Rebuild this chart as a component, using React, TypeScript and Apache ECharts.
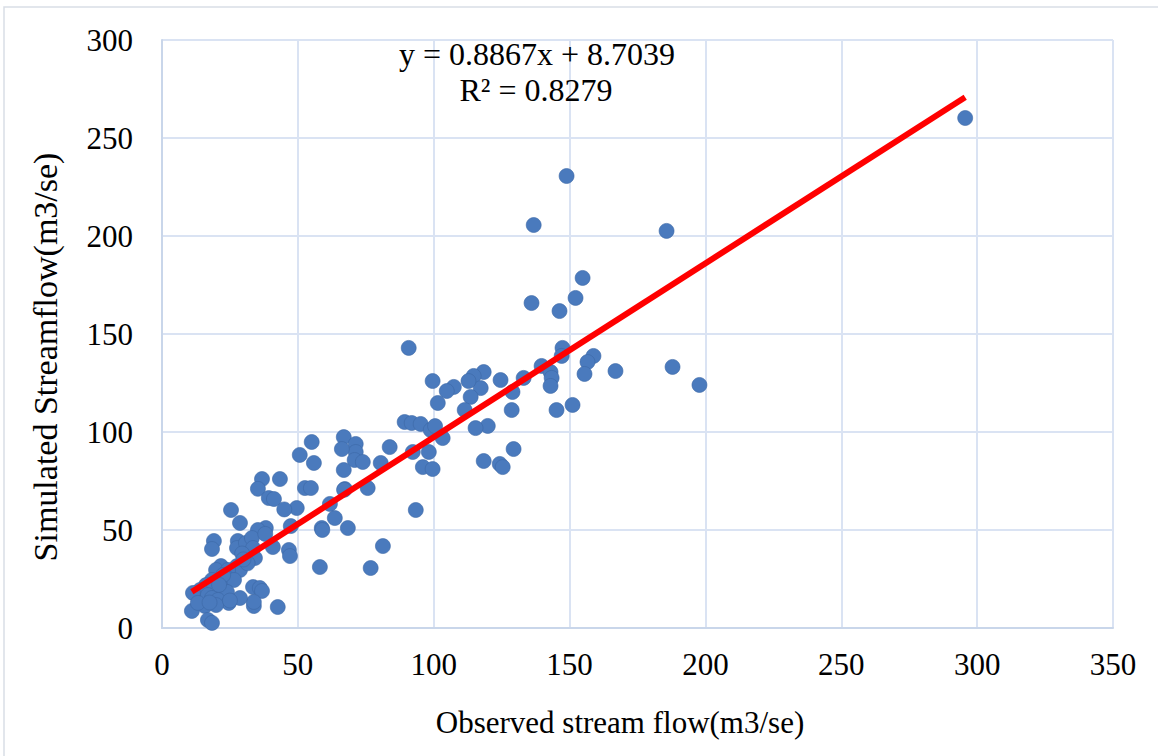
import React, { useEffect, useRef } from "react";
import * as echarts from "echarts";

const observed: number[] = [
  295.6, 148.9, 136.8, 185.7, 154.8, 152.2, 136.0, 146.3, 90.8, 147.4,
  158.8, 147.1, 139.7, 156.6, 155.5, 166.9, 187.9, 197.8, 143.0, 143.4,
  143.0, 118.4, 114.7, 124.6, 133.1, 99.6, 107.4, 104.8, 117.3, 129.0,
  113.6, 101.5, 151.1, 145.2, 111.4, 128.7, 89.3, 91.9, 95.2, 98.9,
  119.9, 115.4, 103.3, 83.8, 92.3, 98.2, 129.4, 118.4, 124.3, 125.4,
  96.0, 99.6, 80.5, 93.4, 81.3, 76.8, 66.9, 71.3, 71.3, 66.2,
  70.9, 73.9, 66.9, 55.1, 50.7, 55.9, 52.6, 54.8, 49.6, 61.8,
  67.3, 75.7, 63.6, 58.8, 68.4, 58.1, 43.4, 36.8, 35.3, 39.3,
  41.2, 47.4, 38.2, 35.3, 25.4, 28.7, 40.8, 46.7, 47.1, 42.6,
  33.5, 36.0, 36.8, 33.8, 33.8, 28.7, 19.1, 18.4, 27.9, 27.6,
  30.9, 33.1, 33.5, 34.2, 27.6, 28.7, 21.7, 19.9, 24.3, 23.9,
  26.5, 18.4, 16.2, 14.0, 11.4, 16.9, 21.3, 23.9, 18.4, 20.6,
  24.6, 19.9, 15.8, 11.0, 16.9, 18.4, 13.2, 59.0, 67.0, 100.5,
  29.5, 22.5, 31.5, 38.0, 45.0, 21.0, 25.0, 17.5, 30.0, 112.8
];

const simulated: number[] = [
  260.2, 230.6, 205.6, 202.6, 178.6, 168.4, 165.8, 161.7, 142.9, 142.9,
  138.8, 138.8, 133.7, 135.7, 129.6, 131.1, 133.2, 124.0, 130.6, 127.6,
  123.5, 130.6, 128.6, 126.5, 127.6, 126.0, 123.0, 120.9, 122.4, 120.4,
  117.9, 114.8, 113.8, 111.2, 111.2, 111.2, 105.1, 104.6, 104.1, 101.0,
  103.1, 102.0, 96.9, 92.3, 89.8, 89.8, 91.3, 85.2, 83.7, 82.1,
  82.1, 81.1, 84.2, 60.2, 41.8, 30.6, 97.4, 93.9, 89.8, 91.3,
  85.7, 84.7, 80.6, 94.9, 88.3, 84.2, 71.4, 71.4, 61.2, 63.3,
  70.9, 71.4, 56.1, 51.0, 51.0, 31.1, 76.0, 76.0, 71.0, 66.3,
  65.8, 52.0, 51.0, 50.0, 60.2, 53.6, 41.3, 39.8, 36.7, 10.7,
  20.9, 20.4, 18.9, 11.2, 13.3, 15.3, 44.4, 40.3, 44.4, 40.8,
  43.4, 45.9, 40.8, 35.7, 31.6, 29.6, 31.6, 29.6, 29.6, 25.5,
  24.5, 24.5, 21.9, 19.4, 17.9, 16.8, 17.9, 18.4, 15.3, 14.3,
  12.8, 11.7, 11.2, 8.7, 4.1, 2.6, 12.8, 50.0, 70.5, 103.0,
  38.0, 27.0, 33.0, 48.0, 60.5, 22.0, 14.0, 13.0, 35.0, 126.0
];

const slope = 0.8867;
const intercept = 8.7039;
const equationText = "y = 0.8867x + 8.7039";
const r2Text = "R² = 0.8279";
const xTicks = [0, 350, 50];
const yTicks = [0, 300, 50];
const xTitle = "Observed stream flow(m3/se)";
const yTitle = "Simulated Streamflow(m3/se)";

export default function App() {
  const ref = useRef<HTMLDivElement>(null);
  useEffect(() => {
    document.body.style.margin = "0";
    if (!ref.current) return;
    const chart = echarts.init(ref.current, undefined, { renderer: "svg" });
    const pts = observed.map((x, i) => [x, simulated[i]]);
    const xMin = Math.min(...observed);
    const xMax = Math.max(...observed);
    const trend = [
      [xMin, slope * xMin + intercept],
      [xMax, slope * xMax + intercept],
    ];
    const font = "'Liberation Serif', 'Times New Roman', serif";
    const txt = (text: string, x: number, y: number, size: number, rotation = 0) => ({
      type: "text",
      x,
      y,
      rotation,
      z: 100,
      silent: true,
      style: {
        text,
        fontSize: size,
        fontFamily: font,
        fill: "#000",
        align: "center",
        verticalAlign: "middle",
      },
    });
    chart.setOption({
      animation: false,
      backgroundColor: "#ffffff",
      textStyle: { fontFamily: font },
      grid: { left: 162, right: 45, top: 40, bottom: 128 },
      xAxis: {
        type: "value",
        min: xTicks[0],
        max: xTicks[1],
        interval: xTicks[2],
        axisLine: { show: true, lineStyle: { color: "#c9d6ea", width: 2 } },
        axisTick: { show: false },
        splitLine: { show: true, lineStyle: { color: "#dae3f3", width: 2 } },
        axisLabel: { color: "#000", fontSize: 31, fontFamily: font, margin: 21 },
      },
      yAxis: {
        type: "value",
        min: yTicks[0],
        max: yTicks[1],
        interval: yTicks[2],
        axisLine: { show: true, lineStyle: { color: "#c9d6ea", width: 2 } },
        axisTick: { show: false },
        splitLine: { show: true, lineStyle: { color: "#dae3f3", width: 2 } },
        axisLabel: { color: "#000", fontSize: 31, fontFamily: font, margin: 29 },
      },
      graphic: [
        {
          type: "rect",
          shape: { x: 4, y: 7, width: 1170, height: 770 },
          style: { fill: "none", stroke: "#d9dee6", lineWidth: 1.5 },
          z: -10,
          silent: true,
        },
        txt(equationText, 537, 54, 32),
        txt(r2Text, 536, 90, 32),
        txt(xTitle, 620, 722, 31),
        txt(yTitle, 45, 357, 34, Math.PI / 2),
      ],
      series: [
        {
          type: "scatter",
          data: pts,
          symbol: "circle",
          symbolSize: 15,
          itemStyle: {
            color: "#4a7abd",
            borderColor: "#3d68a6",
            borderWidth: 0.6,
            opacity: 1,
          },
          z: 2,
        },
        {
          type: "line",
          data: trend,
          symbol: "none",
          lineStyle: { color: "#ff0000", width: 6 },
          z: 3,
        },
      ],
    });
    return () => chart.dispose();
  }, []);
  return <div ref={ref} style={{ width: 1158, height: 756 }} />;
}
